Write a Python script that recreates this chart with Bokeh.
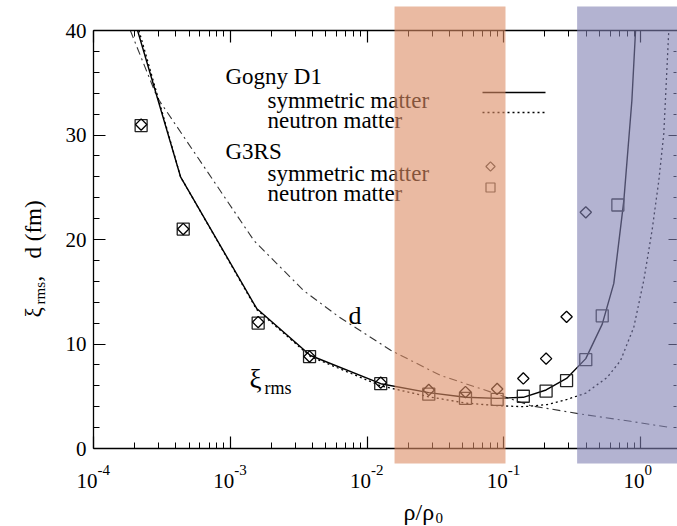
import math
from bokeh.plotting import figure
from bokeh.models import (Range1d, LogAxis, LinearAxis, FixedTicker, BoxAnnotation,
                          Label, CustomJSTickFormatter)
from bokeh.embed import file_html
from bokeh.resources import INLINE

# ---------------- data ----------------
# G3RS neutron matter (squares)
g3rs_nm_rho = [2.23e-4, 4.53e-4, 1.6e-3, 3.8e-3, 0.0126, 0.0283, 0.0525, 0.0895,
               0.139, 0.204, 0.288, 0.398, 0.525, 0.683]
g3rs_nm_xi = [30.9, 21.0, 12.0, 8.8, 6.2, 5.2, 4.8, 4.7, 5.0, 5.5, 6.5, 8.5, 12.7, 23.3]
# G3RS symmetric matter (diamonds)
g3rs_sm_rho = [2.23e-4, 4.53e-4, 1.6e-3, 3.8e-3, 0.0126, 0.0283, 0.0525, 0.0895,
               0.139, 0.204, 0.288, 0.398]
g3rs_sm_xi = [31.0, 21.0, 12.1, 8.8, 6.3, 5.6, 5.4, 5.7, 6.7, 8.6, 12.6, 22.6]
# Gogny D1 symmetric matter (solid)
gd1_sm_rho = [2.1e-4, 4.33e-4, 1.56e-3, 3.86e-3, 0.0126, 0.0283, 0.0525, 0.0895,
              0.139, 0.204, 0.288, 0.398, 0.525, 0.638, 0.755, 0.865, 0.92]
gd1_sm_xi = [40, 26.0, 13.4, 8.9, 6.2, 5.35, 4.9, 4.8, 4.9, 5.6, 6.7, 8.6, 11.9, 15.8,
             23.7, 33.3, 40]
# Gogny D1 neutron matter (dotted)
gd1_nm_rho = [2.15e-4, 4.33e-4, 1.56e-3, 3.86e-3, 0.0126, 0.0283, 0.0525, 0.0895, 0.139,
              0.208, 0.291, 0.398, 0.57, 0.714, 0.893, 1.057, 1.216, 1.36, 1.48, 1.61]
gd1_nm_xi = [40, 26.0, 13.3, 8.8, 6.0, 4.95, 4.35, 4.1, 4.0, 4.2, 4.7, 5.3, 6.8, 8.4,
             11.6, 16.1, 20.9, 25.6, 30.1, 40]
# d (dash-dot)
d_rho = [1.86e-4, 2.92e-4, 1.49e-3, 3.45e-3, 6.22e-3, 0.0149, 0.0344, 0.0896, 0.157,
         0.364, 0.845, 1.66]
d_val = [40, 33.6, 19.9, 15.1, 12.6, 9.4, 7.0, 5.2, 4.1, 3.3, 2.6, 2.0]

# shaded density bands (rho/rho0 limits)
band_orange = (0.0159, 0.103)
band_blue = (0.344, 3.0)

# ticks
x_major = [1e-4, 1e-3, 1e-2, 1e-1, 1e0]
x_minor = [m * 10.0 ** e for e in range(-4, 1) for m in range(2, 10)]
y_major = [0, 10, 20, 30, 40]
y_minor = list(range(2, 40, 2))
x_min, x_max = 1e-4, 1.96   # axis box in data units
y_min, y_max = 0, 40

# legend texts
legend_groups = ["Gogny D1", "G3RS"]
legend_items = ["symmetric matter", "neutron matter"]

FONT = "Liberation Serif"
W, H = 677, 526
# pixel layout of the axis box inside the canvas
BOX_L, BOX_B, DEC_PX, UNIT_PX = 93, 448, 136.75, 10.45


def px2x(px):
    return 10 ** ((px - BOX_L) / DEC_PX + math.log10(x_min))


def py2y(py):
    return (BOX_B - py) / UNIT_PX


p = figure(width=W, height=H, x_axis_type="log",
           x_range=Range1d(px2x(0), px2x(W)), y_range=Range1d(py2y(H), py2y(0)),
           output_backend="svg", toolbar_location=None,
           min_border=0)
p.outline_line_color = None
p.grid.visible = False

empty = CustomJSTickFormatter(code="return ''")

xa = p.xaxis[0]
xa.ticker = FixedTicker(ticks=x_major, minor_ticks=x_minor)
xa.formatter = empty
xa.fixed_location = y_min
xa.bounds = (x_min, x_max)

ya = p.yaxis[0]
ya.ticker = FixedTicker(ticks=y_major, minor_ticks=y_minor)
ya.major_label_text_font = FONT
ya.major_label_text_font_size = "21px"
ya.major_label_text_color = "black"
ya.major_label_standoff = 7
ya.fixed_location = x_min
ya.bounds = (y_min, y_max)

top = LogAxis(ticker=FixedTicker(ticks=x_major, minor_ticks=x_minor), formatter=empty,
              major_label_standoff=0, fixed_location=y_max, bounds=(x_min, x_max))
right = LinearAxis(ticker=FixedTicker(ticks=y_major, minor_ticks=y_minor), formatter=empty,
                   major_label_standoff=0, axis_line_color=None,
                   fixed_location=px2x(676), bounds=(y_min, y_max))
p.add_layout(top, "above")
p.add_layout(right, "right")

for ax in (xa, ya, top):
    ax.major_tick_in = 12
    ax.minor_tick_in = 6
for ax in (xa, ya, top, right):
    ax.major_tick_out = 0
    ax.minor_tick_out = 0
    ax.major_tick_line_color = "black"
    ax.minor_tick_line_color = "black"
    ax.major_tick_line_width = 1.2
    ax.minor_tick_line_width = 1
right.major_tick_in = 8
right.minor_tick_in = 3
for ax in (xa, ya, top):
    ax.axis_line_color = "black"
    ax.axis_line_width = 1.3

# curves
p.line(d_rho, d_val, line_color="#333333", line_width=1.1, line_dash="8 4 2 4")
p.line(gd1_nm_rho, gd1_nm_xi, line_color="black", line_width=1.3, line_dash="2 3")
p.line(gd1_sm_rho, gd1_sm_xi, line_color="black", line_width=1.4)
p.scatter(g3rs_nm_rho, g3rs_nm_xi, marker="square", size=12, fill_color=None,
          line_color="#222222", line_width=1.3)
p.scatter(g3rs_sm_rho, g3rs_sm_xi, marker="square", angle=math.pi / 4, size=8,
          fill_color=None, line_color="black", line_width=1.3)

# legend keys
key_x = [px2x(482), px2x(545)]
p.line(key_x, [py2y(92)] * 2, line_color="black", line_width=1.4)
p.line(key_x, [py2y(112)] * 2, line_color="black", line_width=1.3, line_dash="2 3")
p.scatter([px2x(490)], [py2y(166)], marker="square", angle=math.pi / 4, size=6.5,
          fill_color=None, line_color="#444444", line_width=1.2)
p.scatter([px2x(490)], [py2y(187)], marker="square", size=9, fill_color=None,
          line_color="#444444", line_width=1.2)


def lab(px, py, text, size, **kw):
    p.add_layout(Label(x=px2x(px), y=py2y(py), text=text, text_font=FONT,
                       text_font_size=size, text_color="black",
                       text_baseline="alphabetic", **kw))


# legend text
lab(225, 76, legend_groups[0], "23px")
lab(267, 100, legend_items[0], "23px")
lab(267, 120, legend_items[1], "23px")
lab(225, 151, legend_groups[1], "23px")
lab(267, 173, legend_items[0], "23px")
lab(267, 193, legend_items[1], "23px")

# curve annotations
lab(348, 315, "d", "26px")
lab(249, 378, "ξ", "27px")
lab(264, 387, "rms", "18px")

# x tick labels
for t in x_major:
    e = int(round(math.log10(t)))
    sx = BOX_L + DEC_PX * (math.log10(t) - math.log10(x_min))
    lab(sx + 4, 480, "10", "21px", text_align="right")
    lab(sx + 4, 469, str(e), "15px", text_align="left")

# axis titles
lab(403, 511, "ρ/ρ", "24px")
lab(435, 517, "0", "15px")
lab(33, 317, "ξ", "23px", angle=math.pi / 2)
lab(39, 304, "rms", "15px", angle=math.pi / 2)
lab(33, 281, ",", "23px", angle=math.pi / 2)
lab(33, 258, "d  (fm)", "23px", angle=math.pi / 2)

# bands (drawn over everything, semi transparent)
for (b0, b1), col in ((band_orange, (220, 140, 100)), (band_blue, (128, 128, 178))):
    p.add_layout(BoxAnnotation(left=b0, right=b1, bottom=py2y(463), top=py2y(6),
                               fill_color=col, fill_alpha=0.6, line_color=None))

open("out.html", "w").write(file_html(p, INLINE))
